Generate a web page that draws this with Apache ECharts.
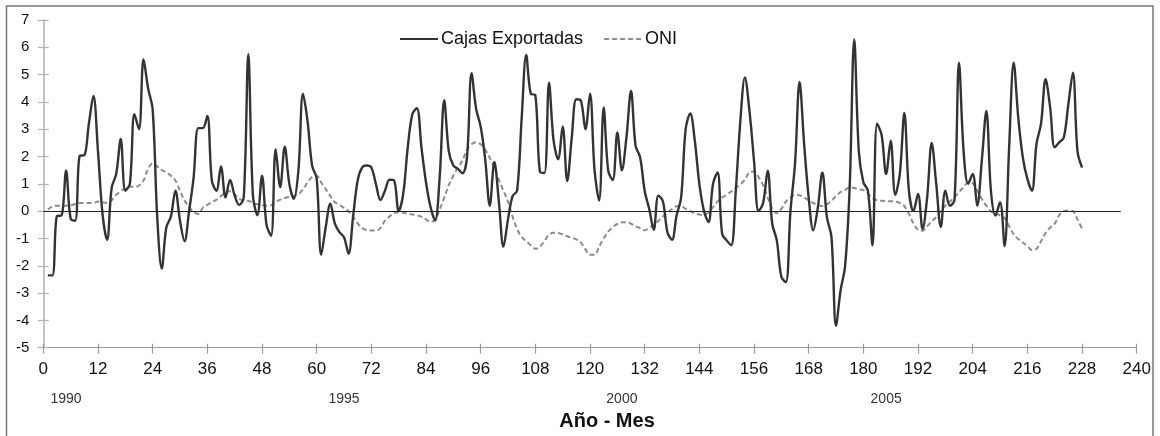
<!DOCTYPE html>
<html>
<head>
<meta charset="utf-8">
<script src="https://cdn.jsdelivr.net/npm/echarts@6/dist/echarts.min.js"></script>
<style>
  html, body { margin: 0; padding: 0; background: #ffffff; }
  #chart { width: 1160px; height: 436px; }
</style>
</head>
<body>
<div id="chart"></div>
<script>
// Monthly anomalies, Jan 1990 (month 1) to Dec 2008 (month 228)
const cajasExportadas = [
  -2.35, -2.35, -0.18, -0.16, 1.48, -0.28, -0.35, 2.03, 2.05, 3.2, 4.22, 2.2,
  -0.1, -1.05, 0.85, 1.36, 2.64, 0.75, 1.0, 3.55, 3.0, 5.56, 4.5, 3.73,
  -0.2, -2.1, -0.6, -0.2, 0.75, -0.35, -1.1, 0.0, 1.24, 3.04, 3.04, 3.49,
  1.12, 0.75, 1.64, 0.5, 1.14, 0.57, 0.23, 0.5, 5.75, 0.6, -0.15, 1.3,
  -0.5, -0.9, 2.27, 0.88, 2.36, 1.0, 0.45, 1.5, 4.3, 3.3, 1.67, 1.2,
  -1.6, -0.58, 0.27, -0.46, -0.77, -0.95, -1.56, -0.2, 1.12, 1.6, 1.67, 1.6,
  1.0, 0.41, 0.75, 1.15, 1.12, 0.0, 0.63, 2.34, 3.55, 3.77, 2.34, 1.06,
  0.15, -0.34, 1.24, 4.06, 2.2, 1.67, 1.55, 1.39, 1.97, 5.05, 3.75, 3.1,
  1.9, 0.2, 1.8, 0.35, -1.3, -0.3, 0.55, 0.75, 3.4, 5.72, 4.3, 4.25,
  1.45, 1.4, 4.7, 2.6, 1.9, 3.1, 1.1, 2.7, 4.1, 4.05, 3.0, 4.3,
  1.5, 0.39, 3.8, 1.48, 1.14, 2.88, 1.5, 2.7, 4.4, 2.4, 1.97, 0.75,
  0.08, -0.68, 0.57, 0.36, -0.77, -1.05, -0.16, 0.5, 3.0, 3.58, 2.58, 1.0,
  0.02, -0.4, 1.0, 1.42, -0.83, -1.07, -1.25, 0.75, 3.3, 4.9, 3.67, 1.85,
  0.0, 0.3, 1.48, -0.46, -1.07, -2.4, -2.6, 0.0, 1.73, 4.73, 2.46, 0.5,
  -0.7, 0.12, 1.42, -0.22, -0.95, -4.2, -2.9, -2.0, 0.88, 6.29, 2.2, 1.06,
  0.75, -1.25, 3.2, 2.8, 1.36, 2.58, 0.6, 1.36, 3.6, 0.75, 0.0, 0.63,
  -0.65, 0.5, 2.5, 1.0, -0.58, 0.75, 0.2, 0.4, 5.44, 2.2, 1.0, 1.36,
  0.2, 1.85, 3.67, 0.75, -0.16, 0.33, -1.28, 2.34, 5.44, 3.43, 1.97, 1.18,
  0.75, 2.46, 3.2, 4.83, 3.8, 2.34, 2.52, 2.7, 3.92, 5.07, 2.2, 1.6
];

const oni = [
  0.06, 0.17, 0.2, 0.2, 0.2, 0.22, 0.26, 0.3, 0.3, 0.3, 0.3, 0.35,
  0.33, 0.3, 0.4, 0.6, 0.73, 0.85, 0.9, 0.88, 0.94, 1.12, 1.55, 1.75,
  1.63, 1.5, 1.42, 1.3, 1.12, 0.75, 0.39, 0.15, -0.04, -0.1, 0.12, 0.23,
  0.33, 0.42, 0.55, 0.68, 0.73, 0.62, 0.45, 0.39, 0.38, 0.3, 0.25, 0.22,
  0.2, 0.22, 0.33, 0.42, 0.48, 0.53, 0.56, 0.62, 0.8, 1.05, 1.25, 1.3,
  1.05, 0.8, 0.55, 0.33, 0.24, 0.12, 0.0, -0.2, -0.45, -0.62, -0.69, -0.71,
  -0.71, -0.62, -0.35, -0.2, -0.06, -0.04, -0.06, -0.09, -0.12, -0.15, -0.2, -0.3,
  -0.4, -0.3, 0.05, 0.5, 0.95, 1.3, 1.6, 1.85, 2.25, 2.45, 2.52, 2.45,
  2.25, 1.95, 1.6, 1.15, 0.75, 0.35, -0.2, -0.65, -0.95, -1.1, -1.25, -1.38,
  -1.3, -1.1, -0.86, -0.79, -0.8, -0.85, -0.92, -0.98, -1.03, -1.15, -1.4, -1.6,
  -1.6, -1.3, -1.0, -0.75, -0.58, -0.47, -0.41, -0.41, -0.46, -0.55, -0.62, -0.7,
  -0.62, -0.5, -0.36, -0.2, -0.05, 0.08, 0.18, 0.18, 0.08, 0.0, -0.08, -0.12,
  -0.13, -0.05, 0.15, 0.35, 0.5, 0.6, 0.72, 0.85, 0.98, 1.15, 1.42, 1.45,
  1.25, 0.95, 0.5, 0.1, -0.08, 0.08, 0.35, 0.5, 0.6, 0.58, 0.5, 0.4,
  0.3, 0.22, 0.18, 0.25, 0.38, 0.55, 0.7, 0.78, 0.87, 0.85, 0.8, 0.77,
  0.65, 0.48, 0.4, 0.38, 0.37, 0.36, 0.36, 0.3, 0.18, -0.1, -0.45, -0.68,
  -0.72, -0.55, -0.38, -0.22, 0.0, 0.2, 0.35, 0.5, 0.7, 0.88, 1.05, 1.02,
  0.75, 0.45, 0.2, 0.0, -0.1, -0.15, -0.25, -0.55, -0.85, -1.02, -1.15, -1.28,
  -1.42, -1.38, -1.1, -0.8, -0.6, -0.46, -0.15, 0.0, 0.02, 0.0, -0.3, -0.64
];

// Month index of each observation (1 = January 1990)
const months = cajasExportadas.map((_, i) => i + 1);

// Year captions under the month axis, centred on the given month
const yearLabels = ['1990', '1995', '2000', '2005'];
const yearMonths = [5, 66, 127, 185];

const seriesNames = ['Cajas Exportadas', 'ONI'];
const axisTitle = 'Año - Mes';

const FONT = '"Liberation Sans", Arial, sans-serif';

const chart = echarts.init(document.getElementById('chart'), null, { renderer: 'canvas' });

const pairs = (vals) => vals.map((v, i) => [months[i], v]);

const baseX = {
  type: 'value', min: 0, max: 240, interval: 12, position: 'bottom',
  splitLine: { show: false }
};
const baseY = {
  type: 'value', min: -5, max: 7, interval: 1, position: 'left',
  splitLine: { show: false }
};

const option = {
  animation: false,
  backgroundColor: '#ffffff',
  grid: { left: 43.3, right: 23.3, top: 20, bottom: 88.3, containLabel: false },
  legend: {
    data: seriesNames,
    left: 394, top: 25,
    itemWidth: 38, itemHeight: 14, itemGap: 20,
    itemStyle: { opacity: 0 },
    textStyle: { fontFamily: FONT, fontSize: 18, color: '#111111', padding: [0, 0, 0, -2] }
  },
  xAxis: [
    Object.assign({}, baseX, {
      axisLine: { show: true, onZero: false, lineStyle: { color: '#9a9a9a', width: 1.2 } },
      axisTick: { show: true, inside: false, length: 6, lineStyle: { color: '#9a9a9a', width: 1.2 } },
      axisLabel: { show: true, margin: 13, fontFamily: FONT, fontSize: 17, color: '#111111' }
    }),
    Object.assign({}, baseX, {
      axisLine: { show: false, onZero: false },
      axisTick: { show: true, inside: true, length: 4, lineStyle: { color: '#9a9a9a', width: 1.2 } },
      axisLabel: { show: false }
    })
  ],
  yAxis: [
    Object.assign({}, baseY, {
      axisLine: { show: true, onZero: false, lineStyle: { color: '#b4b4b4', width: 1.6 } },
      axisTick: { show: true, inside: false, length: 5.5, lineStyle: { color: '#b4b4b4', width: 1.2 } },
      axisLabel: { show: true, margin: 14, fontFamily: FONT, fontSize: 15, color: '#111111' }
    }),
    Object.assign({}, baseY, {
      axisLine: { show: false, onZero: false },
      axisTick: { show: true, inside: true, length: 5.5, lineStyle: { color: '#b4b4b4', width: 1.2 } },
      axisLabel: { show: false }
    })
  ],
  series: [
    {
      name: seriesNames[0],
      type: 'line',
      xAxisIndex: 0, yAxisIndex: 0,
      data: pairs(cajasExportadas),
      smooth: 0.35,
      symbol: 'none',
      showSymbol: false,
      z: 3,
      lineStyle: { color: '#333333', width: 2.4 },
      itemStyle: { color: '#333333' },
      markLine: {
        silent: true,
        symbol: ['none', 'none'],
        label: { show: false },
        lineStyle: { color: '#222222', width: 1.2, type: 'solid' },
        data: [[{ coord: [0, 0] }, { coord: [236.5, 0] }]]
      }
    },
    {
      name: seriesNames[1],
      type: 'line',
      xAxisIndex: 0, yAxisIndex: 0,
      data: pairs(oni),
      smooth: 0.35,
      symbol: 'none',
      showSymbol: false,
      z: 2,
      lineStyle: { color: '#8c8c8c', width: 2, type: [5, 3] },
      itemStyle: { color: '#8c8c8c' }
    }
  ]
};

chart.setOption(option);

// Chart-area frame, year captions and axis title
const yearTexts = yearLabels.map((label, i) => {
  const px = chart.convertToPixel({ xAxisIndex: 0 }, yearMonths[i]);
  return {
    type: 'text',
    x: px, y: 399,
    style: {
      text: label, fill: '#333333', font: '14px ' + FONT,
      textAlign: 'center', textVerticalAlign: 'middle'
    }
  };
});

chart.setOption({
  graphic: [
    {
      type: 'rect',
      shape: { x: 6.5, y: 6, width: 1146.5, height: 440 },
      style: { fill: 'none', stroke: '#777777', lineWidth: 1.5 },
      silent: true
    },
    ...yearTexts,
    {
      type: 'text',
      x: 607, y: 421,
      style: {
        text: axisTitle, fill: '#111111', font: 'bold 20px ' + FONT,
        textAlign: 'center', textVerticalAlign: 'middle'
      }
    }
  ]
});
</script>
</body>
</html>
